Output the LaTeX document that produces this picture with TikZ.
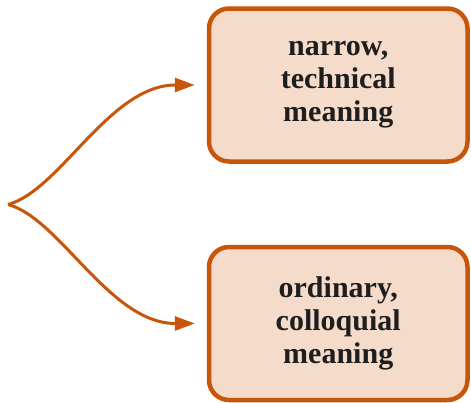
\documentclass[tikz,border=0pt]{standalone}
\usepackage{fontspec}
\setmainfont{Liberation Serif}
\usepackage{tikz}
\usetikzlibrary{arrows.meta}

\definecolor{rust}{RGB}{200,86,10}
\definecolor{peach}{RGB}{245,220,202}
\definecolor{ink}{RGB}{30,30,30}

\begin{document}
\begin{tikzpicture}
		[x=1pt,y=-1pt,
		box/.style={draw=rust,fill=peach,line width=4.5pt,rounded corners=20pt,
			minimum width=258.5pt,minimum height=153pt,align=center,text=ink,
			font=\fontsize{30}{33}\selectfont\bfseries},
		link/.style={draw=rust,line width=3pt,-{Triangle[length=20pt,width=14pt]}}]

		\useasboundingbox (0,0) rectangle (471,402);

		\coordinate (src) at (8,204.5);

		\node[box] (narrow) at (338.25,85) {narrow,\\technical\\meaning};

		\node[box] (ordinary) at (338.25,323.5) {ordinary,\\colloquial\\meaning};

		% the fork
		\draw[link] (src) .. controls +(52,-14) and +(-85,0) .. ([xshift=-12pt]narrow.west);
		\draw[link] (src) .. controls +(52,14) and +(-85,0) .. ([xshift=-12pt]ordinary.west);
\end{tikzpicture}
\end{document}
